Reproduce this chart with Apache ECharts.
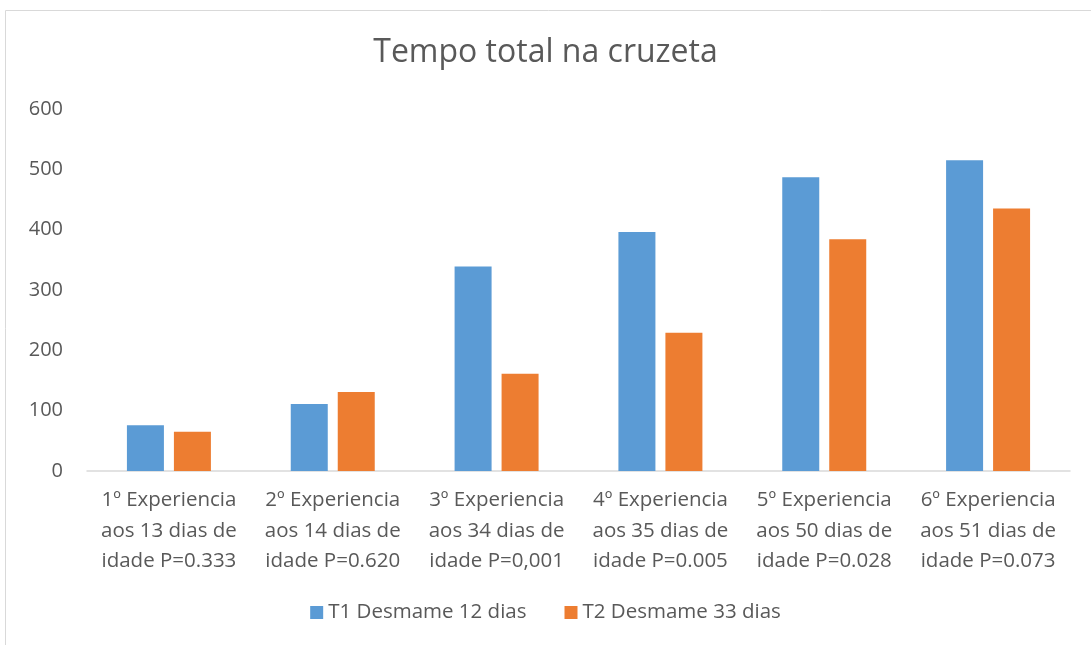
<!DOCTYPE html>
<html>
<head>
<meta charset="utf-8">
<script src="https://cdn.jsdelivr.net/npm/echarts@6/dist/echarts.min.js"></script>
<style>
  html, body { margin: 0; padding: 0; background: #fff; }
  #chart { width: 1091px; height: 645px; }
</style>
</head>
<body>
<div id="chart"></div>
<script>
// categories and values
var categories = [
  '1º Experiencia\naos 13 dias de\nidade P=0.333',
  '2º Experiencia\naos 14 dias de\nidade P=0.620',
  '3º Experiencia\naos 34 dias de\nidade P=0,001',
  '4º Experiencia\naos 35 dias de\nidade P=0.005',
  '5º Experiencia\naos 50 dias de\nidade P=0.028',
  '6º Experiencia\naos 51 dias de\nidade P=0.073'
];
var t1Values = [76, 111, 339, 396, 487, 515];
var t2Values = [65, 131, 161, 229, 384, 435];
var seriesNames = ['T1 Desmame 12 dias', 'T2 Desmame 33 dias'];

var chart = echarts.init(document.getElementById('chart'));
var font = '"Open Sans", "Liberation Sans", sans-serif';

var option = {
  animation: false,
  textStyle: { fontFamily: font },
  title: {
    text: 'Tempo total na cruzeta',
    left: 'center',
    top: 32,
    textStyle: { fontFamily: font, fontSize: 32, fontWeight: 'normal', color: '#595959' }
  },
  graphic: [{
    type: 'rect',
    shape: { x: 5.5, y: 10.5, width: 1100, height: 700 },
    style: { fill: 'none', stroke: '#d9d9d9', lineWidth: 1 },
    silent: true
  }],
  legend: {
    bottom: 17,
    left: 'center',
    itemWidth: 13,
    itemHeight: 13,
    itemGap: 38,
    icon: 'rect',
    textStyle: { fontFamily: font, fontSize: 20.5, color: '#595959' },
    data: seriesNames
  },
  grid: { left: 87, right: 21, top: 109, bottom: 174 },
  xAxis: {
    type: 'category',
    data: categories,
    axisLine: { lineStyle: { color: '#d9d9d9', width: 1.5 } },
    axisTick: { show: false },
    axisLabel: {
      fontFamily: font, fontSize: 20.5, color: '#595959',
      lineHeight: 30.5, margin: 14, interval: 0
    }
  },
  yAxis: {
    type: 'value',
    min: 0,
    max: 600,
    interval: 100,
    splitLine: { show: false },
    axisLine: { show: false },
    axisTick: { show: false },
    axisLabel: { fontFamily: font, fontSize: 20, color: '#595959', margin: 24 }
  },
  series: [
    {
      name: seriesNames[0],
      type: 'bar',
      data: t1Values,
      barWidth: 37,
      barGap: '27%',
      itemStyle: { color: '#5b9bd5' }
    },
    {
      name: seriesNames[1],
      type: 'bar',
      data: t2Values,
      barWidth: 37,
      barGap: '27%',
      itemStyle: { color: '#ed7d31' }
    }
  ]
};

option && chart.setOption(option);
</script>
</body>
</html>
